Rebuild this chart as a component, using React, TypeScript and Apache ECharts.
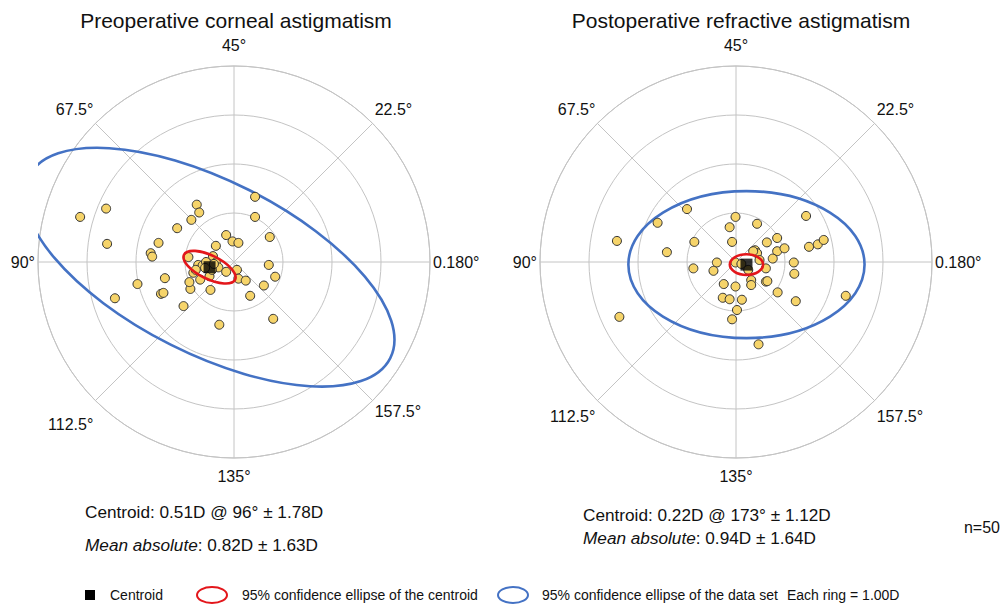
import React, { useEffect, useRef } from 'react';
import * as echarts from 'echarts';

// Double-angle plot vectors (diopters): x toward 0/180°, y toward 45°
const preX = [0.43, -3.14, -2.61, -0.76, -0.71, -0.87, 0.43, -1.16, -2.59, -1.54, -1.70, -1.67, -0.16, -0.03, 0.09, 0.73, -0.37, -0.43, -0.93, -0.73, -0.64, -0.37, -0.32, -0.83, -0.50, -0.69, -0.16, 0.06, 0.09, 0.24, 0.71, 0.84, 0.61, 0.33, -0.48, -0.89, -0.91, -1.41, -1.97, -1.49, -1.44, -1.03, -2.43, -0.30, 0.80, -0.57, -0.45, -0.78, -0.59, -0.41];
const preY = [1.33, 0.92, 1.09, 1.17, 1.01, 0.86, 0.92, 0.69, 0.37, 0.39, 0.18, 0.11, 0.55, 0.42, 0.39, 0.51, 0.33, 0.12, 0.10, -0.06, -0.07, -0.01, -0.11, -0.22, -0.29, -0.36, -0.20, -0.16, -0.34, -0.38, -0.06, -0.30, -0.48, -0.69, -0.57, -0.55, -0.41, -0.33, -0.45, -0.65, -0.63, -0.90, -0.74, -1.28, -1.16, 0.00, -0.16, -0.16, -0.12, -0.04];
const postX = [-1.00, -1.60, -2.43, -1.41, -0.85, -0.01, -0.13, 0.43, -0.08, 1.43, 0.84, 0.63, 0.39, 0.43, 0.84, 0.99, 0.75, 0.48, 1.49, 1.67, 1.79, 1.18, 1.19, -0.39, -0.46, -0.87, -0.01, 0.61, 0.31, 0.61, 0.64, 0.31, -0.25, -0.01, 0.85, 1.22, 2.24, -0.27, -0.13, 0.12, 0.02, -0.08, -2.38, 0.46, 0.11, 0.25, 0.35];
const postY = [1.08, 0.80, 0.43, 0.20, 0.41, 0.92, 0.71, 0.78, 0.41, 0.94, 0.49, 0.40, 0.24, 0.18, 0.22, 0.28, 0.07, 0.04, 0.31, 0.36, 0.45, -0.01, -0.24, -0.01, -0.18, -0.13, -0.01, -0.13, -0.37, -0.40, -0.39, -0.47, -0.45, -0.50, -0.62, -0.80, -0.69, -0.73, -0.76, -0.77, -0.98, -1.17, -1.12, -1.68, -0.04, -0.16, 0.22];

// Centroids: magnitude (D) @ axis (deg)
const preCentroid = { magnitude: 0.51, axis: 96 };
const postCentroid = { magnitude: 0.22, axis: 173 };

// Ellipses: [semi-major D, semi-minor D, tilt deg in double-angle space]
const preDataEllipse = [4.13, 1.77, -26.7];
const preCentroidEllipse = [0.58, 0.24, -26];
const postDataEllipse = [2.41, 1.5, 0];
const postCentroidEllipse = [0.34, 0.21, 0];

const ringMax = 4;
const titles = ['Preoperative corneal astigmatism', 'Postoperative refractive astigmatism'];
const preStats = ['Centroid: 0.51D @ 96° ± 1.78D', '{i|Mean absolute}: 0.82D ± 1.63D'];
const postStats = ['Centroid: 0.22D @ 173° ± 1.12D', '{i|Mean absolute}: 0.94D ± 1.64D'];
const sampleLabel = 'n=50';
const legendLabels = ['Centroid', '95% confidence ellipse of the centroid', '95% confidence ellipse of the data set', 'Each ring = 1.00D'];

const FONT = "'Liberation Sans', Arial, Helvetica, sans-serif";
const RED = '#e3161b';
const BLUE = '#4472c4';
const GRID = '#c4c4c4';
const TEXT = '#111';

const toPolar = (xs: number[], ys: number[]) =>
  xs.map((x, i) => {
    const y = ys[i];
    const r = Math.hypot(x, y);
    let a = (Math.atan2(y, x) * 180) / Math.PI;
    if (a < 0) a += 360;
    return [r, a];
  });

const ellipseSeries = (polarIndex: number, centroid: any, ell: number[], color: string, z: number) => ({
  type: 'custom',
  coordinateSystem: 'polar',
  polarIndex,
  z,
  silent: true,
  data: [[centroid.magnitude, centroid.axis * 2, ell[0], ell[1], ell[2]]],
  renderItem: (params: any, api: any) => {
    const c = api.coord([api.value(0), api.value(1)]);
    const o = api.coord([0, 0]);
    const u = api.coord([1, 0]);
    const s = Math.hypot(u[0] - o[0], u[1] - o[1]);
    const R = s * ringMax;
    return {
      type: 'group',
      clipPath: { type: 'rect', shape: { x: o[0] - R, y: o[1] - R, width: 2 * R, height: 2 * R } },
      children: [
        {
          type: 'ellipse',
          x: c[0],
          y: c[1],
          rotation: (api.value(4) * Math.PI) / 180,
          shape: { cx: 0, cy: 0, rx: api.value(2) * s, ry: api.value(3) * s },
          style: { fill: 'none', stroke: color, lineWidth: 2.6 },
        },
      ],
    };
  },
});

// line heights per label position (used to nudge labels outward like the reference)
const labelRich = (lh: Record<string, number>) => {
  const r: any = {};
  Object.keys(lh).forEach((k) => {
    r[k] = { fontSize: 16, fontFamily: FONT, color: TEXT, lineHeight: lh[k] };
  });
  return r;
};
const posKey: Record<number, string> = { 0: 'h', 45: 'ur', 90: 'tp', 135: 'ul', 180: 'h', 225: 'll', 270: 'bt', 315: 'lr' };

const angleAxis = (polarIndex: number, lh: Record<string, number>) => ({
  polarIndex,
  type: 'value',
  min: 0,
  max: 360,
  interval: 45,
  startAngle: 0,
  clockwise: false,
  axisLine: { show: true, lineStyle: { color: GRID, width: 1 } },
  axisTick: { show: false },
  splitLine: { show: true, lineStyle: { color: GRID, width: 1 } },
  axisLabel: {
    show: true,
    margin: 3,
    color: TEXT,
    fontSize: 16,
    fontFamily: FONT,
    rich: labelRich(lh),
    formatter: (v: number) => `{${posKey[v] || 'h'}|${v === 0 ? '0.180°' : `${v / 2}°`}}`,
  },
});

const radiusAxis = (polarIndex: number) => ({
  polarIndex,
  type: 'value',
  min: 0,
  max: ringMax,
  interval: 1,
  axisLine: { show: false },
  axisTick: { show: false },
  axisLabel: { show: false },
  splitLine: { show: true, lineStyle: { color: GRID, width: 1 } },
});

const scatter = (polarIndex: number, xs: number[], ys: number[]) => ({
  type: 'scatter',
  coordinateSystem: 'polar',
  polarIndex,
  z: 3,
  symbol: 'circle',
  symbolSize: 9,
  itemStyle: { color: '#f6d46a', borderColor: '#333', borderWidth: 1, opacity: 1 },
  data: toPolar(xs, ys),
});

const centroidSeries = (polarIndex: number, c: any) => ({
  type: 'scatter',
  coordinateSystem: 'polar',
  polarIndex,
  z: 6,
  symbol: 'rect',
  symbolSize: 12,
  itemStyle: { color: '#000' },
  data: [[c.magnitude, c.axis * 2]],
});

const txt = (x: number, y: number, text: string, size: number, align = 'left', extra: any = {}) => ({
  type: 'text',
  x,
  y,
  silent: true,
  style: {
    text,
    fill: TEXT,
    fontSize: size,
    fontFamily: FONT,
    textAlign: align,
    textVerticalAlign: 'middle',
    ...extra,
  },
});

const italicRich = (size: number) => ({
  rich: { i: { fontStyle: 'italic', fontSize: size, fontFamily: FONT, fill: TEXT } },
});

export default function App() {
  const ref = useRef<HTMLDivElement>(null);
  useEffect(() => {
    if (!ref.current) return;
    const chart = echarts.init(ref.current, undefined, { renderer: 'svg' });
    chart.setOption({
      animation: false,
      backgroundColor: '#fff',
      polar: [
        { center: [234, 262], radius: 196 },
        { center: [736, 262], radius: 196 },
      ],
      angleAxis: [
        angleAxis(0, { h: 20, tp: 36, bt: 30, ul: 24, ur: 24, ll: 44, lr: 18 }),
        angleAxis(1, { h: 20, tp: 36, bt: 30, ul: 24, ur: 24, ll: 28, lr: 28 }),
      ],
      radiusAxis: [radiusAxis(0), radiusAxis(1)],
      series: [
        ellipseSeries(0, preCentroid, preDataEllipse, BLUE, 2),
        scatter(0, preX, preY),
        ellipseSeries(0, preCentroid, preCentroidEllipse, RED, 5),
        centroidSeries(0, preCentroid),
        ellipseSeries(1, postCentroid, postDataEllipse, BLUE, 2),
        scatter(1, postX, postY),
        ellipseSeries(1, postCentroid, postCentroidEllipse, RED, 5),
        centroidSeries(1, postCentroid),
      ],
      graphic: [
        txt(236, 20, titles[0], 21, 'center'),
        txt(741, 20, titles[1], 21, 'center'),
        txt(85, 512, preStats[0], 17.2),
        txt(85, 545, preStats[1], 17.2, 'left', italicRich(17.2)),
        txt(583, 515, postStats[0], 17.2),
        txt(583, 538, postStats[1], 17.2, 'left', italicRich(17.2)),
        txt(1000, 527, sampleLabel, 16, 'right'),
        { type: 'rect', silent: true, shape: { x: 85, y: 590, width: 10, height: 10 }, style: { fill: '#000' } },
        txt(110, 595, legendLabels[0], 14),
        { type: 'ellipse', silent: true, shape: { cx: 212, cy: 595, rx: 15, ry: 8 }, style: { fill: 'none', stroke: RED, lineWidth: 2 } },
        txt(242, 595, legendLabels[1], 14),
        { type: 'ellipse', silent: true, shape: { cx: 513, cy: 595, rx: 15, ry: 8 }, style: { fill: 'none', stroke: BLUE, lineWidth: 2 } },
        txt(542, 595, legendLabels[2], 14),
        txt(787, 595, legendLabels[3], 14),
      ],
    });
    return () => chart.dispose();
  }, []);
  return <div ref={ref} style={{ position: 'absolute', left: 0, top: 0, width: 1003, height: 605 }} />;
}
